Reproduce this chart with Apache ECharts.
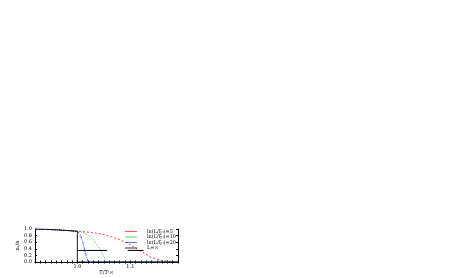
<!DOCTYPE html>
<html><head><meta charset="utf-8">
<script src="https://cdn.jsdelivr.net/npm/echarts@6/dist/echarts.min.js"></script>
<style>html,body{margin:0;padding:0;background:#fff}#c{width:471px;height:278px}</style>
</head><body><div id="c"></div>
<script>
const legendNames = ['ln(L/ξ\u2080)=5', 'ln(L/ξ\u2080)=10', 'ln(L/ξ\u2080)=20', 'L=∞'];
const red5 = [[0.92,1.0],[0.94,0.99],[0.96,0.975],[0.98,0.955],[1.0,0.935],[1.02,0.905],[1.04,0.865],[1.06,0.79],[1.08,0.68],[1.10,0.52],[1.12,0.32],[1.14,0.14],[1.16,0.04],[1.18,0.01],[1.19,0.005]];
const green10 = [[0.92,1.0],[0.94,0.99],[0.96,0.975],[0.98,0.955],[1.0,0.93],[1.01,0.9],[1.02,0.83],[1.03,0.67],[1.04,0.46],[1.05,0.17],[1.055,0.0],[1.19,0.0]];
const blue20 = [[0.92,1.0],[0.94,0.99],[0.96,0.975],[0.98,0.955],[1.0,0.93],[1.005,0.85],[1.01,0.62],[1.015,0.28],[1.02,0.03],[1.025,0.0],[1.19,0.0]];
const blackInf = [[0.92,1.0],[0.94,0.99],[0.96,0.975],[0.98,0.955],[1.0,0.93],[1.0,0.0],[1.19,0.0]];
const arrowA = [[1.0,0.35],[1.056,0.35]];
const arrowB = [[1.095,0.35],[1.125,0.35]];
const xTickLabels = ['1.0', '1.1'];
const yTickLabels = ['0.0','0.2','0.4','0.6','0.8','1.0'];

const colors = ['#ff3030', '#33cc33', '#3355ff', '#000000'];
const dashes = [[2,2], [1,1], [3,1,1,1], 'solid'];
const font = 'DejaVu Serif';
const ch = echarts.init(document.getElementById('c'));
const axisLine = {show:true, lineStyle:{color:'#000', width:1}};
const curves = [red5, green10, blue20, blackInf];
ch.setOption({
  animation:false,
  grid:{left:35, right:293, top:229, bottom:16},
  legend:{
    data:legendNames.map((n,i)=>({name:n, itemStyle:{color:colors[i], borderWidth:0}})),
    orient:'vertical', left:125, top:229, itemGap:0.5,
    itemWidth:12, itemHeight:4, icon:'path://M0,1.6L12,1.6L12,2.4L0,2.4Z',
    textStyle:{fontSize:5, fontFamily:font, color:'#000', padding:[0,0,0,5]},
    align:'left', padding:0
  },
  xAxis:[{
    type:'value', min:0.92, max:1.19, interval:0.01,
    name:'T/T\u1d9c\u221e', nameLocation:'middle', nameGap:7,
    nameTextStyle:{fontSize:5, fontFamily:font, color:'#000'},
    axisLine, splitLine:{show:false},
    axisTick:{inside:true, length:1.5, lineStyle:{color:'#000'}},
    axisLabel:{fontSize:5, fontFamily:font, color:'#000', margin:2,
      formatter:v=>{const s=v.toFixed(2); return s==='1.00'?xTickLabels[0]:(s==='1.10'?xTickLabels[1]:'');}}
  },{
    type:'value', position:'top', min:0.92, max:1.19, interval:0.01,
    axisLine, splitLine:{show:false}, axisLabel:{show:false},
    axisTick:{inside:true, length:1.5, lineStyle:{color:'#000'}}
  }],
  yAxis:[{
    type:'value', min:0, max:1, interval:0.2,
    name:'n\u209b/n', nameLocation:'middle', nameGap:13,
    nameTextStyle:{fontSize:5, fontFamily:font, color:'#000'},
    axisLine, splitLine:{show:false},
    axisTick:{inside:true, length:2, lineStyle:{color:'#000'}},
    minorTick:{show:true, splitNumber:2, length:1},
    axisLabel:{fontSize:5, fontFamily:font, color:'#000', margin:3,
      formatter:v=>yTickLabels[Math.round(v/0.2)]}
  },{
    type:'value', position:'right', min:0, max:1, interval:0.2,
    axisLine, splitLine:{show:false}, axisLabel:{show:false},
    axisTick:{inside:true, length:2, lineStyle:{color:'#000'}}
  }],
  series: curves.map((d,i)=>({
      name:legendNames[i], type:'line', data:d, showSymbol:false, symbol:'none', color:colors[i],
      lineStyle:{color:colors[i], width:0.9, type:dashes[i]}, itemStyle:{color:colors[i]}, z:i===3?4:3
    })).concat([
    {name:'a', type:'line', data:arrowA, symbol:'none', color:'#000', itemStyle:{color:'#000'}, lineStyle:{color:'#000', width:1}, silent:true, z:5},
    {name:'b', type:'line', data:arrowB, symbol:'none', color:'#000', itemStyle:{color:'#000'}, lineStyle:{color:'#000', width:1}, silent:true, z:5}
  ])
});
</script></body></html>
